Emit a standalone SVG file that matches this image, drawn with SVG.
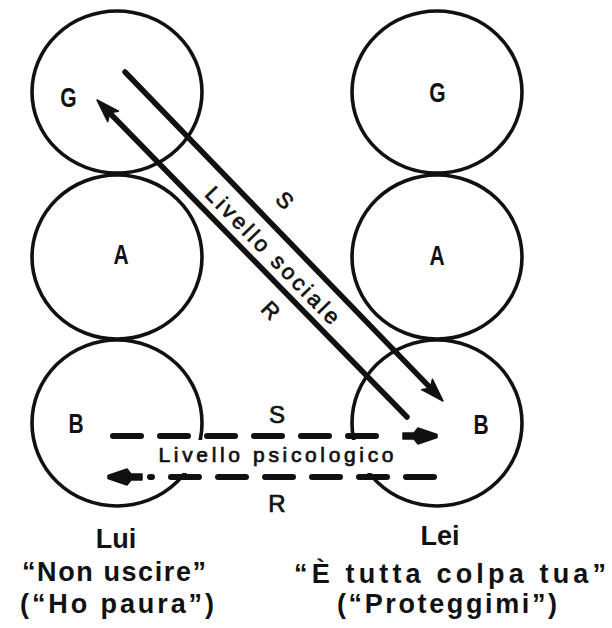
<svg xmlns="http://www.w3.org/2000/svg" xmlns:xlink="http://www.w3.org/1999/xlink" width="612" height="628" viewBox="0 0 612 628">
<style>
.ring{fill:none;stroke:#111;stroke-width:3.6}
.lt{font-family:"Liberation Sans",Arial,sans-serif;font-weight:bold;font-size:28px;fill:#111;text-anchor:middle}
.lab{font-family:"Liberation Sans",Arial,sans-serif;font-size:22px;fill:#111;stroke:#111;stroke-width:0.7;text-anchor:middle}
.cap{font-family:"Liberation Sans",Arial,sans-serif;font-weight:bold;font-size:27px;fill:#111;text-anchor:middle}
.ln{fill:none;stroke:#111;stroke-width:5.5;stroke-linecap:round}
.dl{fill:none;stroke:#111;stroke-width:6;stroke-linecap:round;stroke-dasharray:28 19}
.hd{fill:#111;stroke:#111;stroke-width:1.5;stroke-linejoin:round}
</style>
<defs>
<marker id="ah" markerUnits="userSpaceOnUse" orient="auto" refX="0" refY="0" markerWidth="40" markerHeight="24" viewBox="-12 -12 40 24" overflow="visible">
<path class="hd" d="M14,0 L-9,-7.5 L-4,0 L-9,7.5 Z"/>
</marker>
<path id="hh" class="hd" d="M0,-1.5 L-19,-8 L-23,-3 L-34,-3 L-34,3 L-23,3 L-19,8 L0,1.5 Z"/>
</defs>

<g id="node-lui-G"><ellipse class="ring" cx="117" cy="92" rx="85" ry="81"/><text class="lt" transform="translate(68.5,107) scale(0.75,1)">G</text></g>
<g id="node-lui-A"><ellipse class="ring" cx="117" cy="257" rx="85" ry="82"/><text class="lt" transform="translate(121,264) scale(0.75,1)">A</text></g>
<g id="node-lui-B"><ellipse class="ring" cx="117" cy="423" rx="85" ry="83"/><text class="lt" transform="translate(76,433) scale(0.75,1)">B</text></g>
<g id="node-lei-G"><ellipse class="ring" cx="437" cy="92" rx="85" ry="81"/><text class="lt" transform="translate(437.5,102) scale(0.75,1)">G</text></g>
<g id="node-lei-A"><ellipse class="ring" cx="437" cy="257" rx="85" ry="82"/><text class="lt" transform="translate(437,265) scale(0.75,1)">A</text></g>
<g id="node-lei-B"><ellipse class="ring" cx="437" cy="423" rx="85" ry="83"/><text class="lt" transform="translate(481,434) scale(0.75,1)">B</text></g>

<g id="connectors">
<path class="ln" d="M125,72 L433.3,390.9" marker-end="url(#ah)"/>
<path class="ln" d="M407,417 L106.8,110" marker-end="url(#ah)"/>
<g transform="translate(273,255) rotate(45.8)"><text class="lab" x="0" y="8" textLength="182" lengthAdjust="spacing">Livello sociale</text></g>
<g transform="translate(285,200) rotate(45.8)"><text class="lab" x="0" y="8">S</text></g>
<g transform="translate(271,310) rotate(45.8)"><text class="lab" x="0" y="8">R</text></g>

<rect x="176" y="440" width="200" height="33" fill="#fff"/>
<path class="dl" d="M113,436 H390"/>
<use xlink:href="#hh" transform="translate(437,436)"/>
<path class="dl" d="M434,477 H150"/>
<use xlink:href="#hh" transform="translate(108,477) rotate(180)"/>
<text class="lab" x="276" y="462" textLength="235" lengthAdjust="spacing" style="font-size:21px">Livello psicologico</text>
<text class="lab" x="277" y="423" style="font-size:24px">S</text>
<text class="lab" x="277" y="512" style="font-size:24px">R</text>
</g>

<g id="caption-lui">
<text class="cap" x="116" y="548">Lui</text>
<text class="cap" x="114" y="581" textLength="184" lengthAdjust="spacing">“Non uscire”</text>
<text class="cap" x="117" y="613" textLength="194" lengthAdjust="spacing">(“Ho paura”)</text>
</g>
<g id="caption-lei">
<text class="cap" x="440" y="545">Lei</text>
<text class="cap" x="450" y="583" textLength="312" lengthAdjust="spacing">“È tutta colpa tua”</text>
<text class="cap" x="447" y="613" textLength="220" lengthAdjust="spacing">(“Proteggimi”)</text>
</g>
</svg>
